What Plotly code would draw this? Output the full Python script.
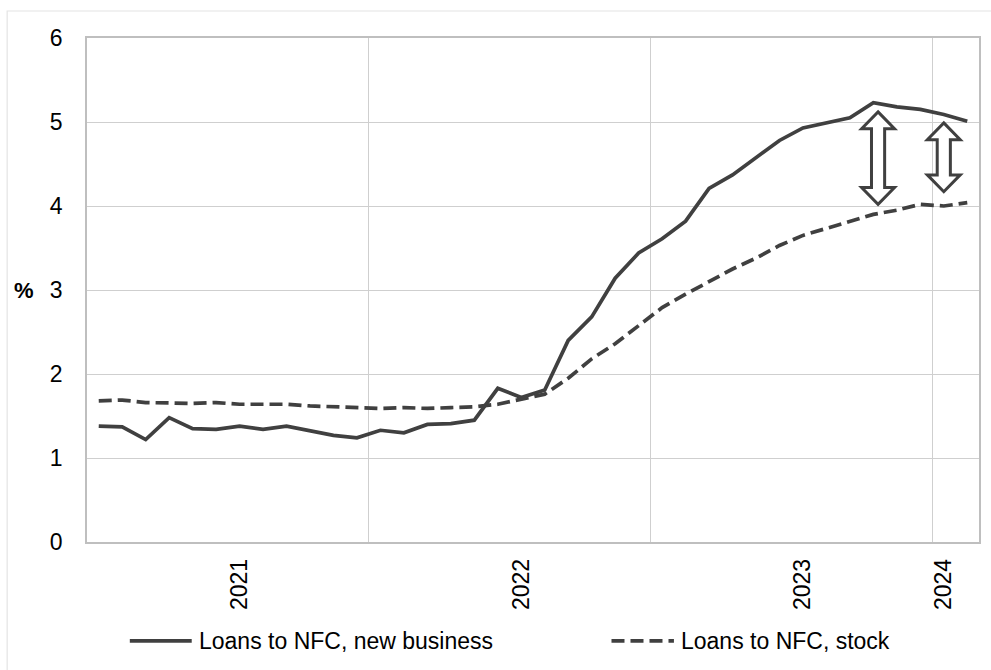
import plotly.graph_objects as go

# ---- data ----
months = [f"{y}-{m:02d}" for y in (2021, 2022, 2023) for m in range(1, 13)] + ["2024-01", "2024-02"]
new_business = [1.38, 1.37, 1.22, 1.48, 1.35, 1.34, 1.38, 1.34, 1.38, 1.32, 1.27, 1.24,
                1.33, 1.30, 1.40, 1.41, 1.45, 1.83, 1.72, 1.81, 2.40, 2.68, 3.14, 3.44,
                3.61, 3.82, 4.21, 4.37, 4.57, 4.78, 4.93, 4.99, 5.05, 5.23, 5.18, 5.15,
                5.09, 5.01]
stock = [1.68, 1.69, 1.66, 1.65, 1.65, 1.66, 1.64, 1.64, 1.64, 1.62, 1.61, 1.59,
         1.59, 1.60, 1.59, 1.60, 1.61, 1.64, 1.70, 1.76, 1.95, 2.18, 2.36, 2.58,
         2.79, 2.95, 3.10, 3.25, 3.38, 3.53, 3.65, 3.73, 3.82, 3.90, 3.95, 4.02,
         4.00, 4.04]
tick_months = ["2021-07", "2022-07", "2023-07", "2024-01"]
tick_labels = ["2021", "2022", "2023", "2024"]
series_names = ["Loans to NFC, new business", "Loans to NFC, stock"]

# arrows: (x position in months index, top value, bottom value)
arrows = [(33.2, 5.12, 4.02), (36.0, 4.99, 4.17)]

x = list(range(len(months)))
tickvals = [months.index(m) for m in tick_months]

FONT = "Liberation Sans, Arial, sans-serif"
LINE = "#404040"
GRID = "#cfcfcf"

fig = go.Figure()
fig.add_trace(go.Scatter(x=x, y=new_business, mode="lines", name=series_names[0],
                         line=dict(color=LINE, width=3.7)))
fig.add_trace(go.Scatter(x=x, y=stock, mode="lines", name=series_names[1],
                         line=dict(color=LINE, width=3.7, dash="13px,6px")))

shapes = []
# double arrows
hw, sw, hh = 0.70, 0.28, 0.20
for xc, yt, yb in arrows:
    pts = [(xc, yt), (xc + hw, yt - hh), (xc + sw, yt - hh), (xc + sw, yb + hh),
           (xc + hw, yb + hh), (xc, yb), (xc - hw, yb + hh), (xc - sw, yb + hh),
           (xc - sw, yt - hh), (xc - hw, yt - hh)]
    path = "M " + " L ".join(f"{px},{py}" for px, py in pts) + " Z"
    shapes.append(dict(type="path", xref="x", yref="y", path=path,
                       fillcolor="white", line=dict(color=LINE, width=3)))

# outer chart border
shapes.append(dict(type="rect", xref="paper", yref="paper",
                   x0=-0.0895, x1=1.03, y0=-0.30, y1=1.0536,
                   line=dict(color="#e4e4e4", width=1.2), fillcolor="rgba(0,0,0,0)", layer="below"))

# manual legend
leg_y = -0.196
legend_items = [(0.048, 0.1174, 0.123, None), (0.588, 0.658, 0.664, "13px,6px")]
annotations = []
for (lx0, lx1, tx, dash), name in zip(legend_items, series_names):
    ln = dict(color=LINE, width=3.7)
    if dash:
        ln["dash"] = dash
    shapes.append(dict(type="line", xref="paper", yref="paper", x0=lx0, x1=lx1,
                       y0=leg_y, y1=leg_y, line=ln))
    annotations.append(dict(xref="paper", yref="paper", x=tx, y=leg_y, text=name,
                            showarrow=False, xanchor="left", yanchor="middle",
                            font=dict(family=FONT, size=23, color="#000")))

annotations.append(dict(xref="paper", yref="paper", x=(24 - 87) / 894, y=(542 - 290) / 504,
                        text="<b>%</b>", showarrow=False, xanchor="center", yanchor="middle",
                        font=dict(family=FONT, size=22, color="#000")))

fig.update_layout(
    width=991, height=670,
    margin=dict(l=87, r=10, t=38, b=128),
    paper_bgcolor="white", plot_bgcolor="white",
    showlegend=False,
    font=dict(family=FONT, size=23, color="#000"),
    shapes=shapes, annotations=annotations,
    xaxis=dict(range=[-0.5, len(months) - 0.5], tickmode="array", tickvals=tickvals,
               ticktext=tick_labels, tickangle=-90, showgrid=False, zeroline=False,
               showline=True, linecolor="#bfbfbf", linewidth=1.5, mirror=True,
               ticks="", ticklabelstandoff=6,
               minor=dict(tick0=-0.5, dtick=12, showgrid=True, gridcolor=GRID, gridwidth=1.2)),
    yaxis=dict(range=[0, 6], dtick=1, showgrid=True, gridcolor=GRID, gridwidth=1.2,
               zeroline=False, showline=True, linecolor="#bfbfbf", linewidth=1.5, mirror=True,
               ticks="", ticklabelstandoff=18),
)

fig.write_html("out.html")
